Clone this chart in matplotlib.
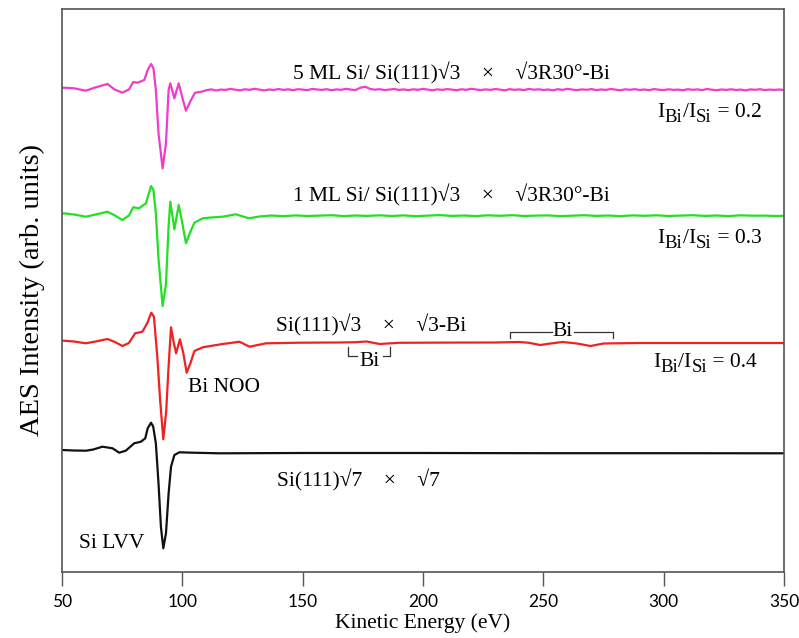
import matplotlib
matplotlib.use("Agg")
import matplotlib.pyplot as plt
import numpy as np

# ---------------- data ----------------
# black: Si(111)sqrt7 x sqrt7
e_black = [50, 55, 60, 63, 66.8, 71, 73.75, 76.5, 80, 82.8, 84.6, 85.6, 87, 87.9, 89, 90.1, 91.1,
           92.1, 93.2, 94.3, 95.3, 96.7, 98.75, 104.3, 115.4, 150, 200, 250, 300, 350]
i_black = [0, -0.5, -0.7, 0.5, 3.3, 1.7, -2.7, -0.7, 6.7, 8.3, 11.7, 21.7, 27.3, 23.3, 6.7, -33.3,
           -76.7, -98.3, -83.3, -43.3, -16.7, -5, -2.3, -2.7, -3.3, -3, -3, -3.2, -3.2, -3.3]

# red: Si(111)sqrt3 x sqrt3-Bi
e_red = [50, 50.8, 55, 59.9, 64, 68.9, 72, 75.1, 77.8, 80.4, 83.4, 85.4, 87.1, 88.2, 89.6, 90.8,
         92.1, 93.3, 94.3, 95.3, 96.3, 97.4, 99, 100.4, 101.8, 103.4, 105, 108.5, 116.7, 120,
         123.7, 127.9, 134.8, 148.7, 165, 172, 176.5, 182, 190, 210, 230, 240, 244, 248.7, 253,
         258, 264, 269.6, 275, 290, 320, 350]
i_red = [0.3, 0.3, -0.5, -2.3, -0.5, 2, -1, -5, -2, 7.7, 9.3, 17.7, 28.3, 24.3, -15.7, -60,
         -98.3, -70, -25, 13.7, 0, -12.3, 1.7, -12, -31.7, -22, -10, -6.3, -3, -2, -0.7, -5.7,
         -2.3, -1.7, -1.5, -1.2, -0.5, -3, -1.8, -1.6, -1.5, -1, -1.8, -4, -2.5, -1, -2.5, -5, -2.5,
         -2, -2, -2]

# green: 1 ML Si / Si(111)sqrt3 x sqrt3R30-Bi
e_green = [50, 50.8, 55, 59.9, 64, 68.9, 72, 75.1, 77.8, 79.6, 82, 84.9, 87, 88, 89, 90.1, 91.8,
           93.2, 94.3, 95, 96.7, 98.5, 99.9, 101.5, 103.3, 105, 108.5, 112, 116.7, 122.2, 127.7,
           132, 137, 142, 147, 152, 157, 162, 167, 172, 177, 182, 187, 192, 197, 202, 207, 212,
           217, 222, 227, 232, 237, 242, 247, 252, 257, 262, 267, 272, 277, 282, 287, 292, 297,
           302, 307, 312, 317, 322, 327, 332, 337, 342, 347, 350]
i_green = [0.5, 0.7, -0.5, -2.7, -0.5, 2.3, -1.5, -6, -1.5, 6.7, 5.7, 10.7, 28, 24, 0.7, -45, -92,
           -70, -12, 12.3, -15.3, 9, -8, -29.3, -18, -8.7, -4.3, -3.5, -2.7, -0.3, -4.3,
           -2.5, -1.5, -2.2, -1.4, -2, -1.6, -1.2, -2.1, -1.5, -1.9, -1.3, -2, -1.4, -2.2, -1.6, -1.1, -1.9,
           -1.5, -2.1, -1.3, -1.8, -1.2, -2, -1.6, -1.4, -2.1, -1.7, -1.2, -1.9, -1.5, -2.2, -1.4, -1.8, -1.3,
           -2, -1.6, -1.2, -1.9, -1.5, -2.1, -1.3, -1.7, -1.6, -2, -1.8]

# magenta: 5 ML Si / Si(111)sqrt3 x sqrt3R30-Bi
e_mag_low = [50, 50.8, 55, 59.9, 64, 68.9, 71.7, 75.1, 77.9, 79.6, 81.4, 84.2, 85.6, 87, 88, 89,
             90.1, 91.8, 93.2, 94.3, 95, 96.7, 98.5, 99.9, 101.5, 103.6, 105.3, 108]
i_mag_low = [1, 1.3, 0.7, -1.7, 1.7, 5, -0.3, -3.7, -0.3, 7, 6.3, 9, 19, 25, 20.7, -1, -44.3, -79.3,
             -54.3, -1, 5.7, -9.3, 5.7, -7.7, -21.7, -11, -3.7, -2.7]
e_mag_high = list(range(110, 351, 2))
i_mag_high = [-1.2, -0.4, -1.5, -0.6, -0.9, 0.1, -0.7, -1.3, -0.3, -0.8, 0.2, -0.6, -1.4, -0.5, -1.0,
              0.0, -0.9, -0.3, -1.2, -0.2, -0.7, -1.1, 0.1, -0.5, -0.9, -0.2, -1.3, -0.4, -0.8, 0.2,
              -0.6, -1.0, 1.3, 2.3, 0.1, -0.7, -0.2, -1.1, -0.5, 0.0, -0.9, -0.4, -1.2, -0.3, -0.8,
              0.1, -0.6, -1.3, -0.4, -0.9, -0.1, -0.7, -1.2, -0.3, -0.8, 0.2, -0.5, -1.1, -0.4, -0.9,
              0.0, -0.6, -1.3, -0.2, -0.8, -0.4, -1.1, 0.1, -0.7, -0.3, -1.0, -0.5, -1.4, -0.2, -0.9,
              0.1, -0.6, -1.2, -0.4, -0.8, -0.1, -1.1, -0.5, -0.9, 0.0, -0.7, -1.3, -0.3, -0.8, -0.2,
              -1.0, -0.5, -1.2, -0.1, -0.7, -1.1, -0.3, -0.9, -0.6, -1.3, -0.2, -0.8, -0.4, -1.1, 0.0,
              -0.7, -1.2, -0.5, -0.9, -0.3, -1.0, -0.6, -1.4, -0.4, -0.8, -0.2, -1.1, -0.6, -0.9, -0.5,
              -1.0]
e_mag = e_mag_low + e_mag_high
i_mag = i_mag_low + i_mag_high

offsets = {"black": 122, "red": 231, "green": 358, "magenta": 483}
colors = {"black": "#111111", "red": "#ee2222", "green": "#22e022", "magenta": "#f03ccc"}

labels = ["5 ML Si/ Si(111)\u221a3    \u00d7    \u221a3R30\u00b0-Bi",
          "1 ML Si/ Si(111)\u221a3    \u00d7    \u221a3R30\u00b0-Bi",
          "Si(111)\u221a3    \u00d7    \u221a3-Bi",
          "Si(111)\u221a7    \u00d7    \u221a7"]
ratios = ["0.2", "0.3", "0.4"]
xticks = [50, 100, 150, 200, 250, 300, 350]

# ---------------- figure ----------------
serif = "Liberation Serif"

fig = plt.figure(figsize=(7.99, 6.38), dpi=100)
ax = fig.add_axes([62 / 799, 1 - 572 / 638, (784 - 62) / 799, (572 - 9) / 638])

spectra = [("black", e_black, i_black), ("red", e_red, i_red),
           ("green", e_green, i_green), ("magenta", e_mag, i_mag)]
for name, e, i in spectra:
    ax.plot(e, np.array(i) + offsets[name], color=colors[name], lw=1.6,
            solid_joinstyle="round", solid_capstyle="round")

ax.set_xlim(50, 350)
ax.set_ylim(0, 563)
ax.set_xticks(xticks)
ax.set_xticklabels([str(t) for t in xticks], family="Lato", fontsize=12.5)
ax.set_yticks([])
ax.tick_params(axis="x", direction="out", length=10, width=1, color="#555555", pad=6)
for s in ax.spines.values():
    s.set_color("#555555")
    s.set_linewidth(1.2)

ax.set_xlabel("Kinetic Energy (eV)", family=serif, fontsize=15.5, labelpad=2)
ax.set_ylabel("AES Intensity (arb. units)", family=serif, fontsize=20.5, labelpad=12)

fs = 15.5
ax.text(211.7, 499, labels[0], family=serif, fontsize=fs, ha="center", va="center")
ax.text(211.7, 377, labels[1], family=serif, fontsize=fs, ha="center", va="center")
ax.text(178.6, 247, labels[2], family=serif, fontsize=fs, ha="center", va="center")
ax.text(173, 92, labels[3], family=serif, fontsize=fs, ha="center", va="center")

# I_Bi / I_Si = ratio, built from chained text pieces
def ratio_label(x, y, r):
    pieces = [("I", fs, 0), ("Bi", 13.5, -3.5), ("/I", fs, 0), ("Si", 13.5, -3.5),
              (" = " + r, fs, 0)]
    prev = None
    for txt, size, dy in pieces:
        if prev is None:
            prev = ax.annotate(txt, xy=(x, y), xycoords="data", family=serif, fontsize=size,
                               ha="left", va="baseline")
        else:
            prev = ax.annotate(txt, xy=(1, y), xycoords=(prev, "data"),
                               xytext=(0, dy), textcoords="offset points",
                               family=serif, fontsize=size, ha="left", va="baseline")

for r, y, xl in zip(ratios, [455.3, 328.7, 204.7], [297.5, 297.5, 295.7]):
    ratio_label(xl, y, r)

ax.text(117.5, 184, "Bi NOO", family=serif, fontsize=fs, ha="center", va="center")
ax.text(70.6, 28, "Si LVV", family=serif, fontsize=fs, ha="center", va="center")

# Bi brackets
bk = dict(color="#333333", lw=0.9)
ax.plot([168.9, 168.9, 172.4], [225.3, 216, 216], **bk)
ax.plot([183.2, 186.25, 186.25], [216, 216, 225.3], **bk)
ax.text(177.9, 210, "Bi", family=serif, fontsize=fs, ha="center", va="center")
ax.plot([236, 236, 253.6], [234.3, 240.3, 240.3], **bk)
ax.plot([262.6, 279, 279], [240.3, 240.3, 234.3], **bk)
ax.text(258, 240.5, "Bi", family=serif, fontsize=fs, ha="center", va="center")

fig.savefig("out.png", dpi=100)
